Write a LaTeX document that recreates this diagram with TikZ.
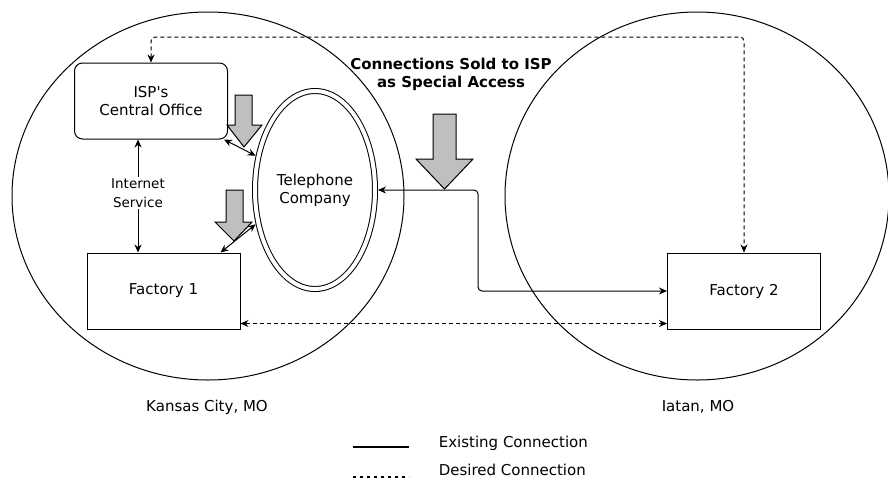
\documentclass[tikz,border=0pt]{standalone}
\usepackage{fontspec}
\setmainfont{DejaVu Sans}
\usetikzlibrary{shapes,arrows.meta}
\tikzstyle{region} = [ellipse, draw, inner sep=0pt]
\tikzstyle{block} = [rectangle, draw, 
    minimum width=153pt, minimum height=76pt, align=center]
\tikzstyle{office} = [block, rounded corners=8pt]
\tikzstyle{telco} = [ellipse, draw, double, double distance=4pt,
    minimum width=120pt, minimum height=198pt, inner sep=0pt, outer sep=3pt, align=center]
\tikzstyle{feed} = [draw, fill=gray!50]
\tikzstyle{desired} = [dash pattern=on 4pt off 3pt]

\begin{document}
\begin{tikzpicture}[x=1pt, y=-1pt, line width=1pt, >={Stealth[length=8pt,width=7pt]},
    font=\fontsize{15}{18}\selectfont]
    \useasboundingbox (0,0) rectangle (888,480);

    % the two towns
    \node (kc) [region, minimum width=392pt, minimum height=368pt] at (208,196) {};
    \node (iatan) [region, minimum width=384pt, minimum height=368pt] at (697,196) {};
    \node (kclabel) at (207,407) {Kansas City, MO};
    \node (iatanlabel) at (698,407) {Iatan, MO};

    \node (isp) [office] at (151,101) {ISP\textquotesingle s\\Central Office};
    \node (f1) [block] at (163.5,291) {Factory 1};
    \node (f2) [block] at (744,291) {Factory 2};
    \node (tel) [telco] at (315,190) {Telephone\\Company};
    \node (inet) [font=\fontsize{13.5}{19}\selectfont, align=center, inner sep=1pt] at (138,193) {Internet\\Service};
    \node (title) [font=\fontsize{15}{18}\selectfont\bfseries, align=center] at (451,74)
        {Connections Sold to ISP\\as Special Access};

    \draw [->] (inet) -- (isp.south -| inet);
    \draw [->] (inet) -- (f1.north -| inet);
    \draw [<->] ([xshift=-4pt]isp.south east) -- (tel.150);
    \draw [<->] (tel.210) -- ([xshift=-20pt]f1.north east);

    \coordinate (bend) at (478,240);
    \draw [<->, rounded corners=4pt] (tel.east) -| (bend) |- (f2.west);

    % desired links
    \coordinate (topline) at (450,37);
    \draw [<->, desired, rounded corners=4pt] (isp.north) |- (topline) -| (f2.north);
    \draw [<->, desired] ([yshift=6pt]f1.south east) -- ([yshift=6pt]f2.south west);

    % grey arrows
    \draw [feed] (433,114) -- (456,114) -- (456,159) -- (473,159) -- (444.5,189) -- (416,159) -- (433,159) -- cycle;
    \draw [feed] (235,95) -- (252,95) -- (252,125) -- (262,125) -- (244,147) -- (227,125) -- (235,125) -- cycle;
    \draw [feed] (226,190) -- (243,190) -- (243,222) -- (252,222) -- (234,241) -- (215,222) -- (226,222) -- cycle;

    % legend
    \coordinate (solidA) at (353,447);
    \coordinate (solidB) at (409,447);
    \coordinate (dotA) at (353,477);
    \coordinate (dotB) at (409,477);
    \draw [line width=2pt] (solidA) -- (solidB);
    \draw [line width=2pt, dash pattern=on 3pt off 4pt] (dotA) -- (dotB);
    \node (exist) [anchor=west] at (435,443) {Existing Connection};
    \node (desire) [anchor=west] at (435,470) {Desired Connection};
\end{tikzpicture}
\end{document}
